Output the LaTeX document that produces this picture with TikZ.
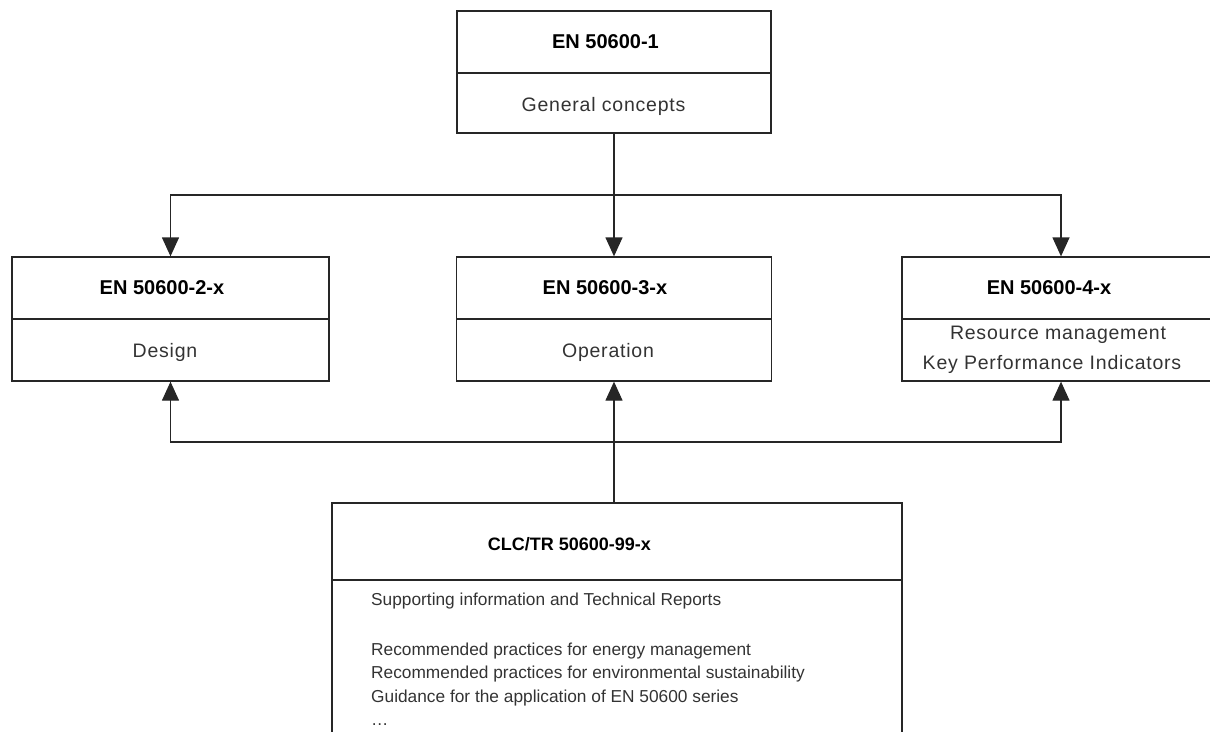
\documentclass[tikz,border=0pt]{standalone}
\usepackage{fontspec}
\setmainfont{Liberation Sans}
\usetikzlibrary{arrows.meta}
\begin{document}
\begin{tikzpicture}[x=1pt,y=-1pt,
  sect/.style={draw=black!85,line width=1.3pt,inner sep=0pt,rectangle},
  head/.style={inner sep=0pt,anchor=base,font=\fontsize{20}{22}\selectfont\bfseries,text=black},
  body/.style={inner sep=0pt,anchor=base,font=\fontsize{19.5}{22}\selectfont\addfontfeature{LetterSpace=4},text=black!80},
  small/.style={inner sep=0pt,anchor=base west,font=\fontsize{17.3}{20}\selectfont,text=black!80},
  conn/.style={draw=black!85,line width=1.3pt},
  arr/.style={conn,-{Triangle[length=19pt,width=17pt]}}]
\useasboundingbox (0,0) rectangle (1210,731);
\clip (0,0) rectangle (1210,731);
% boxes
\node[sect,minimum width=314pt,minimum height=62pt] (t1) at (614,42) {};
\node[sect,minimum width=314pt,minimum height=60pt] (t2) at (614,103) {};
\node[sect,minimum width=317pt,minimum height=62pt] (l1) at (170.5,288) {};
\node[sect,minimum width=317pt,minimum height=62pt] (l2) at (170.5,350) {};
\node[sect,minimum width=315pt,minimum height=62pt] (m1) at (614,288) {};
\node[sect,minimum width=315pt,minimum height=62pt] (m2) at (614,350) {};
\node[sect,minimum width=318pt,minimum height=62pt] (r1) at (1061,288) {};
\node[sect,minimum width=318pt,minimum height=62pt] (r2) at (1061,350) {};
\node[sect,minimum width=570pt,minimum height=77pt] (b1) at (617,541.5) {};
\node[sect,minimum width=570pt,minimum height=200pt] (b2) at (617,680) {};
% texts
\node[head] (tx1) at (605.5,48) {EN 50600-1};
\node[body] (tx2) at (603.5,111) {General concepts};
\node[head] (tx3) at (162,294) {EN 50600-2-x};
\node[body] (tx4) at (165,357) {Design};
\node[head] (tx5) at (605,294) {EN 50600-3-x};
\node[body] (tx6) at (608,357) {Operation};
\node[head] (tx7) at (1049,294) {EN 50600-4-x};
\node[body] (tx8) at (1058,339) {Resource management};
\node[body] (tx9) at (1052,369) {Key Performance Indicators};
\node[head,font=\fontsize{18}{20}\selectfont\bfseries] (tx10) at (569.5,550) {CLC/TR 50600-99-x};
\node[small] (tx11) at (371,605) {Supporting information and Technical Reports};
\node[small] (tx12) at (371,655) {Recommended practices for energy management};
\node[small] (tx13) at (371,678) {Recommended practices for environmental sustainability};
\node[small] (tx14) at (371,702) {Guidance for the application of EN 50600 series};
\node[small] (tx15) at (371,725) {\dots};
% connectors
\coordinate (jt) at (614,195);
\coordinate (jb) at (614,442);
\draw[arr] (t2.south) -- (m1.north);
\draw[arr] (jt) -| (l1.north);
\draw[arr] (jt) -| (r1.north);
\draw[arr] (b1.north -| m2.south) -- (m2.south);
\draw[arr] (jb) -| (l2.south);
\draw[arr] (jb) -| (r2.south);
\end{tikzpicture}
\end{document}
